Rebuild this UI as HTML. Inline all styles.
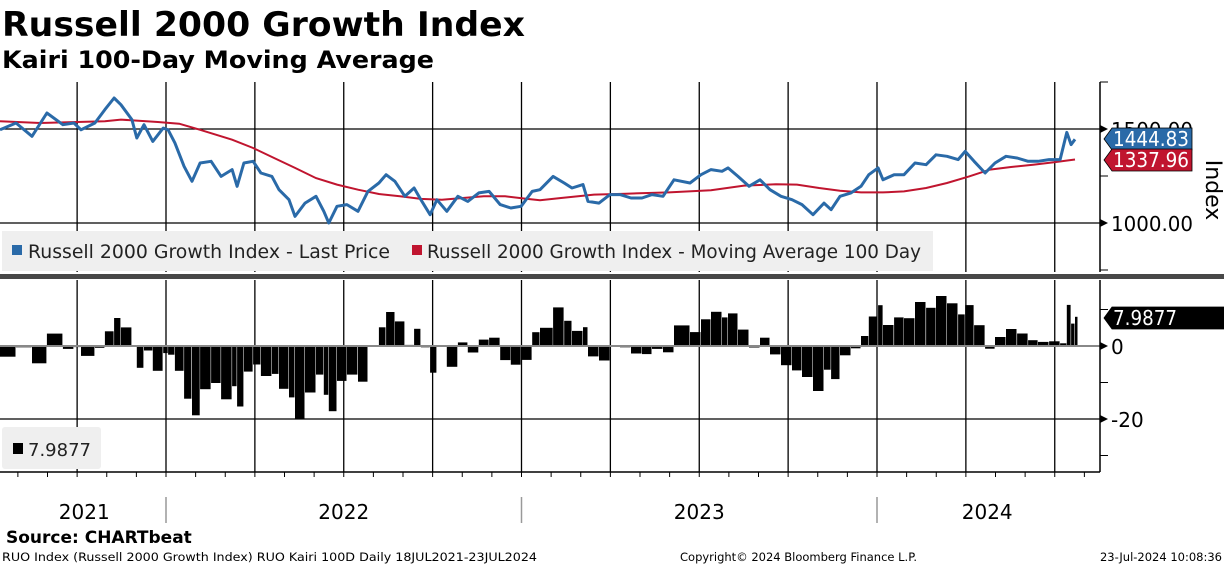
<!DOCTYPE html>
<html><head><meta charset="utf-8">
<style>
body{margin:0;background:#fff;width:1224px;height:566px;overflow:hidden;font-family:"DejaVu Sans","Liberation Sans",sans-serif;}
svg{position:absolute;left:0;top:0}
</style></head>
<body>
<svg width="1224" height="566" viewBox="0 0 1224 566">
<text x="2" y="36" font-family="DejaVu Sans" font-weight="bold" font-size="34" fill="#000" textLength="523" lengthAdjust="spacingAndGlyphs">Russell 2000 Growth Index</text>
<text x="2" y="68" font-family="DejaVu Sans" font-weight="bold" font-size="24" fill="#000" textLength="432" lengthAdjust="spacingAndGlyphs">Kairi 100-Day Moving Average</text>
<g id="grid"></g>
<g id="bars"></g>
<line x1="0" y1="346" x2="1100" y2="346" stroke="#888" stroke-width="2"/>
<path id="maLine" fill="none" stroke="#c0152f" stroke-width="2"/>
<path id="priceLine" fill="none" stroke="#2a6aa8" stroke-width="3" stroke-linejoin="round"/>
<rect x="0" y="274" width="1224" height="5" fill="#484848"/>
<g id="axes"></g>
<rect x="2" y="231" width="931" height="40" fill="#efefef"/>
<rect x="12" y="245" width="10" height="10" fill="#2a6aa8"/>
<text x="28" y="258" font-size="19" fill="#222" textLength="362" lengthAdjust="spacingAndGlyphs">Russell 2000 Growth Index - Last Price</text>
<rect x="412" y="245" width="10" height="10" fill="#c0152f"/>
<text x="427" y="258" font-size="19" fill="#222" textLength="494" lengthAdjust="spacingAndGlyphs">Russell 2000 Growth Index - Moving Average 100 Day</text>
<rect x="2" y="427" width="99" height="42" rx="3" fill="#efefef"/>
<rect x="13" y="443" width="10" height="11" fill="#000"/>
<text x="28" y="456" font-size="18" fill="#222">7.9877</text>
<text x="1216" y="180" font-size="22" fill="#000" transform="rotate(90 1206 180)" text-anchor="middle">Index</text>
<text x="6" y="543" font-size="17" font-weight="bold" fill="#000">Source: CHARTbeat</text>
<text x="2" y="561" font-size="11.5" fill="#000" textLength="535" lengthAdjust="spacingAndGlyphs">RUO Index (Russell 2000 Growth Index) RUO Kairi 100D  Daily 18JUL2021-23JUL2024</text>
<text x="680" y="561" font-size="11.5" fill="#000">Copyright© 2024 Bloomberg Finance L.P.</text>
<text x="1222" y="561" font-size="11.5" fill="#000" text-anchor="end">23-Jul-2024 10:08:36</text>
</svg>
<script>
const priceDates=[2021.533,2021.578,2021.623,2021.665,2021.710,2021.741,2021.761,2021.800,2021.828,2021.854,2021.873,2021.904,2021.918,2021.938,2021.963,2021.992,2022.006,2022.025,2022.051,2022.073,2022.096,2022.127,2022.155,2022.186,2022.200,2022.219,2022.245,2022.267,2022.298,2022.318,2022.346,2022.363,2022.391,2022.422,2022.444,2022.458,2022.481,2022.509,2022.540,2022.568,2022.599,2022.619,2022.644,2022.672,2022.698,2022.717,2022.743,2022.762,2022.790,2022.821,2022.849,2022.880,2022.909,2022.940,2022.970,2022.999,2023.030,2023.052,2023.089,2023.120,2023.142,2023.173,2023.187,2023.218,2023.249,2023.277,2023.308,2023.339,2023.367,2023.398,2023.429,2023.474,2023.505,2023.533,2023.564,2023.581,2023.609,2023.640,2023.671,2023.699,2023.730,2023.761,2023.789,2023.820,2023.851,2023.871,2023.896,2023.927,2023.955,2023.977,2024.003,2024.017,2024.048,2024.076,2024.107,2024.138,2024.166,2024.197,2024.228,2024.248,2024.273,2024.304,2024.332,2024.363,2024.394,2024.425,2024.453,2024.484,2024.515,2024.534,2024.546,2024.557];
const priceValues=[1496,1532,1461,1585,1523,1532,1496,1532,1603,1665,1629,1550,1452,1523,1434,1505,1496,1426,1301,1222,1319,1328,1248,1284,1195,1319,1328,1266,1248,1177,1124,1035,1106,1142,1062,1000,1089,1098,1062,1168,1213,1257,1222,1142,1186,1124,1044,1124,1062,1142,1115,1160,1168,1098,1080,1089,1168,1177,1248,1213,1186,1204,1115,1106,1151,1151,1133,1133,1151,1142,1230,1213,1257,1284,1275,1293,1248,1195,1230,1177,1142,1124,1098,1044,1106,1071,1142,1160,1195,1257,1293,1230,1257,1257,1319,1310,1363,1355,1337,1381,1328,1266,1319,1355,1346,1328,1328,1337,1337,1482,1417,1445];
const maDates=[2021.533,2021.646,2021.828,2021.873,2021.977,2022.037,2022.096,2022.186,2022.245,2022.304,2022.363,2022.422,2022.481,2022.540,2022.599,2022.658,2022.717,2022.776,2022.835,2022.894,2022.954,2023.013,2023.052,2023.111,2023.204,2023.294,2023.415,2023.533,2023.626,2023.716,2023.775,2023.837,2023.896,2023.955,2024.017,2024.076,2024.138,2024.197,2024.259,2024.318,2024.377,2024.439,2024.498,2024.557];
const maValues=[1541,1532,1541,1550,1537,1528,1496,1443,1399,1346,1293,1239,1204,1177,1154,1142,1128,1124,1133,1142,1142,1129,1121,1133,1151,1156,1163,1174,1199,1206,1204,1186,1172,1163,1163,1168,1186,1213,1248,1284,1298,1310,1323,1338];
const priceTicks=[1500,1000];
const kairiTicks=[0,-20];
const yearLabels=['2021','2022','2023','2024'];
const yearLabelDates=[2021.77,2022.5,2023.5,2024.31];
const yearBreaks=[2022,2023,2024];

const NS='http://www.w3.org/2000/svg';
const xS=t=>166+(t-2022)*355.5;
const yP=v=>129+(1500-v)*94/500;
const yK=v=>346-v*73/20;
function mk(tag,attrs,parent){const e=document.createElementNS(NS,tag);for(const k in attrs)e.setAttribute(k,attrs[k]);parent.appendChild(e);return e;}
const grid=document.getElementById('grid'),axes=document.getElementById('axes'),bars=document.getElementById('bars');
for(let t=2021.75;t<=2024.51;t+=0.25){const x=xS(t);
 const l1=mk('line',{x1:x,y1:82,x2:x,y2:272,stroke:'#000','stroke-width':1.3},grid);
 
 
 const l2=mk('line',{x1:x,y1:280,x2:x,y2:472,stroke:'#000','stroke-width':1.3},grid);
 
 }
priceTicks.forEach(v=>{const g=mk('line',{x1:0,y1:yP(v),x2:1100,y2:yP(v),stroke:'#000','stroke-width':1.3},grid);
 
 
 const tx=mk('text',{x:1111,y:yP(v)+8,'font-size':20,fill:'#000',textLength:82,lengthAdjust:'spacingAndGlyphs'},axes);tx.textContent=v.toFixed(2);
 
 
 mk('path',{d:`M1100 ${yP(v)-4}L1108 ${yP(v)}L1100 ${yP(v)+4}Z`,fill:'#000'},axes);});
kairiTicks.forEach(v=>{if(v!==0){const g=mk('line',{x1:0,y1:yK(v),x2:1100,y2:yK(v),stroke:'#000','stroke-width':1.3},grid);
 
 }
 const tx=mk('text',{x:1111,y:yK(v)+8,'font-size':20,fill:'#000'},axes);tx.textContent=(v<0?'-':'')+Math.abs(v);
 
 
 mk('path',{d:`M1100 ${yK(v)-4}L1108 ${yK(v)}L1100 ${yK(v)+4}Z`,fill:'#000'},axes);});
mk('line',{x1:1100,y1:82,x2:1100,y2:272,stroke:'#000','stroke-width':1.5},axes);
mk('line',{x1:1100,y1:280,x2:1100,y2:472,stroke:'#000','stroke-width':1.5},axes);
mk('line',{x1:0,y1:472,x2:1100,y2:472,stroke:'#000','stroke-width':1.5},axes);
[1250,750].forEach(v=>mk('line',{x1:1100,y1:yP(v),x2:1108,y2:yP(v),stroke:'#000'},axes));
[10,-10,-30].forEach(v=>mk('line',{x1:1100,y1:yK(v),x2:1108,y2:yK(v),stroke:'#000'},axes));
mk('line',{x1:1100,y1:82,x2:1108,y2:82,stroke:'#000'},axes);
for(let m=0;m<37;m++){const t=2021.5+m/12+1/12;const x=xS(t);if(x>1100)break;
 mk('line',{x1:x,y1:472,x2:x,y2:477,stroke:'#000'},axes);}
yearBreaks.forEach(t=>{const l=mk('line',{x1:xS(t),y1:497,x2:xS(t),y2:523,stroke:'#999','stroke-width':1.5},axes);
 
 });
yearLabels.forEach((s,i)=>{const tx=mk('text',{x:xS(yearLabelDates[i]),y:519,'font-size':20,'text-anchor':'middle',fill:'#000'},axes);tx.textContent=s;
 
 });
function maAt(t){for(let i=0;i<maDates.length-1;i++){if(t<=maDates[i+1]){const f=(t-maDates[i])/(maDates[i+1]-maDates[i]);return maValues[i]+f*(maValues[i+1]-maValues[i]);}}return maValues[maValues.length-1];}
document.getElementById('priceLine').setAttribute('d',priceDates.map((t,i)=>(i?'L':'M')+xS(t).toFixed(1)+' '+yP(priceValues[i]).toFixed(1)).join(''));
document.getElementById('maLine').setAttribute('d',maDates.map((t,i)=>(i?'L':'M')+xS(t).toFixed(1)+' '+yP(maValues[i]).toFixed(1)).join(''));
priceDates.forEach((t,i)=>{const k=(priceValues[i]-maAt(t))/maAt(t)*100;
 const x0=xS(t),x1=i<priceDates.length-1?xS(priceDates[i+1]):x0+3;
 const y=Math.min(yK(k),yK(0)),h=Math.abs(yK(k)-yK(0));
 const r=mk('rect',{x:x0.toFixed(1),y:y.toFixed(1),width:Math.max(1,(x1-x0-0.5)).toFixed(1),height:h.toFixed(1),fill:'#000'},bars);
 
 });
function tag(y,txt,bg,name,w,tl){const g=mk('g',{},axes);
 
 
 mk('path',{d:`M1104 ${y}L1112 ${y-11}L${1104+w} ${y-11}L${1104+w} ${y+11}L1112 ${y+11}Z`,fill:bg,stroke:'#000','stroke-width':0.8},g);
 const tx=mk('text',{x:1113,y:y+7,'font-size':20,fill:'#fff',textLength:tl,lengthAdjust:'spacingAndGlyphs'},g);tx.textContent=txt;}
tag(139,'1444.83','#2a6aa8','price-value-label',88,76);
tag(160,'1337.96','#c0152f','ma-value-label',88,76);
tag(318,'7.9877','#000','kairi-value-label',120,64);
</script>
</body></html>
